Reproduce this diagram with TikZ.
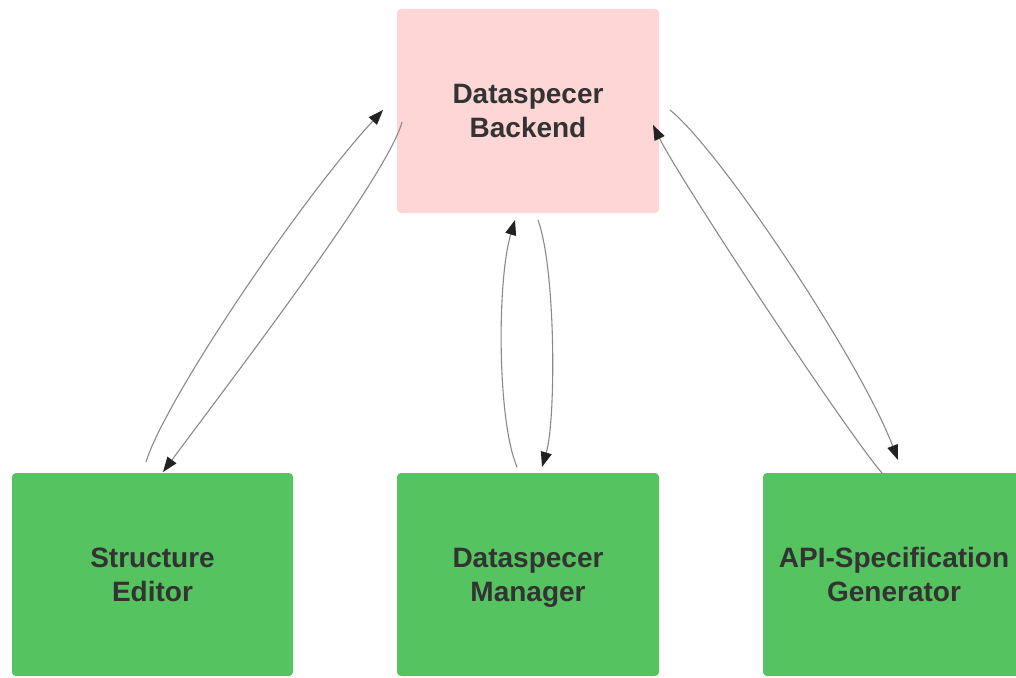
\documentclass[tikz,border=0pt]{standalone}
\usepackage{fontspec}
\setmainfont{Liberation Sans}
\usetikzlibrary{arrows.meta}
\definecolor{pinkbox}{HTML}{FFD6D6}
\definecolor{greenbox}{HTML}{55C35F}
\definecolor{txt}{HTML}{333333}
\definecolor{linec}{HTML}{8A8A8A}
\definecolor{tipc}{HTML}{222222}
\tikzset{
  box/.style={rectangle, rounded corners=4pt, inner sep=0pt, outer sep=0pt,
    align=center, text=txt, text depth=0pt, font=\fontsize{28}{34}\selectfont\bfseries},
  pinkb/.style={box, fill=pinkbox},
  greenb/.style={box, fill=greenbox},
  conn/.style={draw=linec, line width=1.1pt,
    -{Triangle[length=15pt,width=11pt,color=tipc,fill=tipc]}},
}
\begin{document}
\begin{tikzpicture}[x=1pt,y=-1pt]
\clip (0,0) rectangle (1016,677);
\fill[white] (0,0) rectangle (1016,677);
\node[pinkb, minimum width=262pt, minimum height=204pt] (be) at (528,111) {Dataspecer\\Backend};
\node[greenb, minimum width=281pt, minimum height=203pt] (se) at (152.5,574.5) {Structure\\Editor};
\node[greenb, minimum width=262pt, minimum height=203pt] (mg) at (528,574.5) {Dataspecer\\Manager};
\node[greenb, minimum width=262pt, minimum height=203pt] (api) at (894,574.5) {API-Specification\\Generator};
% Structure Editor <-> Backend
\draw[conn] ([shift={(-6.5,-11)}]se.north) .. controls (165,400) and (300,200) .. ([shift={(-14,-1)}]be.west);
\draw[conn] ([shift={(5,11)}]be.west) .. controls (388,175) and (235,375) .. ([shift={(10.5,-1)}]se.north);
% Manager <-> Backend
\draw[conn] ([shift={(-11,-6)}]mg.north) .. controls (497,420) and (497,280) .. ([shift={(-13,7)}]be.south);
\draw[conn] ([shift={(10,7)}]be.south) .. controls (556,270) and (556,420) .. ([shift={(14,-6)}]mg.north);
% API <-> Backend
\draw[conn] ([shift={(-12,0)}]api.north) .. controls (845,430) and (680,180) .. ([shift={(-6,14)}]be.east);
\draw[conn] ([shift={(11,-1)}]be.east) .. controls (720,150) and (860,360) .. ([shift={(4,-13)}]api.north);
\end{tikzpicture}
\end{document}
